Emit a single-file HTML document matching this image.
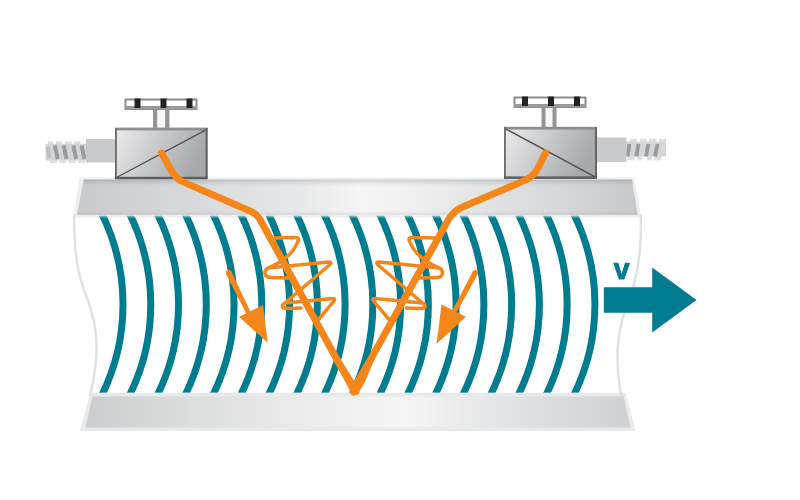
<!DOCTYPE html>
<html><head><meta charset="utf-8"><style>
html,body{margin:0;padding:0;background:#fff;}
body{width:800px;height:500px;overflow:hidden;}
svg{display:block;}
</style></head><body>
<svg width="800" height="500" viewBox="0 0 800 500">
<defs>
<linearGradient id="barG" gradientUnits="userSpaceOnUse" x1="77" y1="0" x2="638" y2="0">
<stop offset="0" stop-color="#c9cacc"/>
<stop offset="0.22" stop-color="#d9dadb"/>
<stop offset="0.40" stop-color="#e7e8e9"/>
<stop offset="0.51" stop-color="#f5f5f5"/>
<stop offset="0.61" stop-color="#eeeeef"/>
<stop offset="0.72" stop-color="#e3e4e5"/>
<stop offset="0.86" stop-color="#d6d7d8"/>
<stop offset="1" stop-color="#c8c9cb"/>
</linearGradient>
<linearGradient id="barB" gradientUnits="userSpaceOnUse" x1="85" y1="0" x2="631" y2="0">
<stop offset="0" stop-color="#cbcccd"/>
<stop offset="0.2" stop-color="#dcdddd"/>
<stop offset="0.40" stop-color="#ececec"/>
<stop offset="0.59" stop-color="#f5f5f5"/>
<stop offset="0.76" stop-color="#e3e4e5"/>
<stop offset="1" stop-color="#cfd0d2"/>
</linearGradient>
<linearGradient id="boxG" x1="0" y1="0" x2="1" y2="0.3">
<stop offset="0" stop-color="#ececed"/>
<stop offset="1" stop-color="#a6a8aa"/>
</linearGradient>
<linearGradient id="boxG2" x1="0" y1="0" x2="1" y2="0.3">
<stop offset="0" stop-color="#ececed"/>
<stop offset="1" stop-color="#a6a8aa"/>
</linearGradient>
</defs>
<rect width="800" height="500" fill="#fff"/>

<!-- pipe end curves -->
<path d="M74,214 C74.5,245 75,268 86,295 C93,313 97,330 96.5,350 C96,370 93,384 90,396" fill="none" stroke="#dfe0e1" stroke-width="2.4"/>
<path d="M641,214 C641,245 640,264 633,288 C626,308 618,325 617.5,355 C617.5,372 619,384 621,396" fill="none" stroke="#dfe0e1" stroke-width="2.4"/>

<!-- waves -->
<filter id="soft" x="-5%" y="-5%" width="110%" height="110%"><feGaussianBlur stdDeviation="0.55"/></filter>
<clipPath id="wclip"><rect x="0" y="215.8" width="800" height="177"/></clipPath>
<g clip-path="url(#wclip)"><g fill="none" stroke="#017b8f" stroke-width="7" filter="url(#soft)">
<path d="M99.92,210.0 A205.0,205.0 0 0 1 100.44,398.0"/>
<path d="M127.68,210.0 A205.0,205.0 0 0 1 128.20,398.0"/>
<path d="M155.44,210.0 A205.0,205.0 0 0 1 155.96,398.0"/>
<path d="M183.20,210.0 A205.0,205.0 0 0 1 183.72,398.0"/>
<path d="M210.96,210.0 A205.0,205.0 0 0 1 211.48,398.0"/>
<path d="M238.72,210.0 A205.0,205.0 0 0 1 239.24,398.0"/>
<path d="M266.48,210.0 A205.0,205.0 0 0 1 267.00,398.0"/>
<path d="M294.24,210.0 A205.0,205.0 0 0 1 294.76,398.0"/>
<path d="M322.00,210.0 A205.0,205.0 0 0 1 322.52,398.0"/>
<path d="M349.76,210.0 A205.0,205.0 0 0 1 350.28,398.0"/>
<path d="M377.52,210.0 A205.0,205.0 0 0 1 378.04,398.0"/>
<path d="M405.28,210.0 A205.0,205.0 0 0 1 405.80,398.0"/>
<path d="M433.04,210.0 A205.0,205.0 0 0 1 433.56,398.0"/>
<path d="M460.80,210.0 A205.0,205.0 0 0 1 461.32,398.0"/>
<path d="M488.56,210.0 A205.0,205.0 0 0 1 489.08,398.0"/>
<path d="M516.32,210.0 A205.0,205.0 0 0 1 516.84,398.0"/>
<path d="M544.08,210.0 A205.0,205.0 0 0 1 544.60,398.0"/>
<path d="M571.84,210.0 A205.0,205.0 0 0 1 572.36,398.0"/>
</g></g>

<!-- top bar -->
<polygon points="79.5,177.6 634.5,177.6 640.8,217.6 73.5,217.6" fill="#dcdddf" fill-opacity="0.5"/>
<polygon points="83.75,179.5 632,179.5 637.6,214.7 77,214.7" fill="url(#barG)"/>
<linearGradient id="vshade" gradientUnits="userSpaceOnUse" x1="0" y1="179.5" x2="0" y2="214.7">
<stop offset="0" stop-color="#000" stop-opacity="0.13"/>
<stop offset="0.10" stop-color="#000" stop-opacity="0.06"/>
<stop offset="0.16" stop-color="#000" stop-opacity="0.0"/>
<stop offset="0.90" stop-color="#000" stop-opacity="0.0"/>
<stop offset="1" stop-color="#000" stop-opacity="0.08"/>
</linearGradient>
<polygon points="83.75,179.5 632,179.5 637.6,214.7 77,214.7" fill="url(#vshade)"/>
<!-- bottom bar -->
<polygon points="90.5,392.8 625.5,392.8 635.5,431 79.8,431" fill="#dcdddf" fill-opacity="0.65"/>
<polygon points="92.5,396.5 623.5,396.5 630.5,427.5 85.5,427.5" fill="url(#barB)"/>

<!-- left sensor -->
<g>
<g fill="#dedfe0">
<rect x="48" y="141.4" width="5" height="2.6"/><rect x="56" y="141.4" width="6" height="2.6"/><rect x="65" y="141.4" width="6.5" height="2.6"/><rect x="74" y="141.4" width="6.5" height="2.6"/>
<rect x="50" y="160.4" width="7" height="2.6"/><rect x="60" y="160.4" width="6" height="2.6"/><rect x="69" y="160.4" width="6.5" height="2.6"/><rect x="78" y="160.4" width="7" height="2.6"/>
</g>
<rect x="45.6" y="143.8" width="40.6" height="16.8" fill="#d4d5d6"/>
<g stroke="#9a9b9d" stroke-width="4">
<line x1="47.6" y1="147" x2="49.4" y2="158" stroke="#bdbebf"/>
<line x1="54.8" y1="145.5" x2="57.7" y2="159"/><line x1="63.6" y1="145.5" x2="66.6" y2="159"/><line x1="73.2" y1="145.5" x2="76.2" y2="159"/><line x1="81.6" y1="145.5" x2="84.4" y2="159"/>
</g>
<rect x="86" y="139" width="29" height="23.5" fill="#c8c9cb"/>
<rect x="125.5" y="99.5" width="71" height="9.5" fill="#fff" stroke="#8c8c8c" stroke-width="2"/>
<rect x="125" y="106" width="72" height="3.5" fill="#9a9a9a"/>
<rect x="134.5" y="98.5" width="6" height="9.5" fill="#222"/>
<rect x="160.5" y="98.5" width="6" height="9.5" fill="#222"/>
<rect x="186.5" y="98.5" width="6" height="9.5" fill="#222"/>
<rect x="153" y="110" width="16.4" height="18" fill="#f8f8f8"/>
<rect x="153" y="110" width="4.2" height="18" fill="#959595"/>
<rect x="165.2" y="110" width="4.2" height="18" fill="#959595"/>
<rect x="115" y="128" width="92.5" height="51" fill="url(#boxG)"/>
<rect x="115" y="127.6" width="92.5" height="2.8" fill="#8e8f91"/>
<rect x="115" y="128" width="1.9" height="51" fill="#6e6f71"/>
<rect x="205.6" y="128" width="2" height="51" fill="#626365"/>
<rect x="115" y="176.8" width="92.5" height="2.5" fill="#5c5d5f"/>
<line x1="116.5" y1="177.5" x2="206" y2="129.8" stroke="#505153" stroke-width="1.4"/>
</g>

<!-- right sensor -->
<g>
<g fill="#dedfe0">
<rect x="630" y="138.8" width="7" height="3"/><rect x="640" y="138.8" width="7" height="3"/><rect x="649" y="138.8" width="7.5" height="3"/><rect x="659" y="138.8" width="7" height="3"/>
<rect x="627.5" y="156" width="7" height="4.3"/><rect x="637.6" y="156" width="4.5" height="4.3"/><rect x="647" y="156" width="5" height="4.3"/><rect x="654" y="156" width="7.5" height="4.3"/>
</g>
<rect x="626" y="141.6" width="40" height="14.8" fill="#d4d5d6"/>
<g stroke="#9a9b9d" stroke-width="3.8">
<line x1="629.4" y1="144" x2="627.6" y2="156.5"/><line x1="638.4" y1="144" x2="636.4" y2="156.5"/><line x1="648.4" y1="144" x2="646" y2="156.5"/><line x1="657.6" y1="144" x2="655" y2="156.5"/>
</g>
<rect x="597" y="137.5" width="29.5" height="24.5" fill="#c8c9cb"/>
<rect x="514.5" y="97.5" width="71" height="9.5" fill="#fff" stroke="#8c8c8c" stroke-width="2"/>
<rect x="514" y="104" width="72" height="3.5" fill="#9a9a9a"/>
<rect x="522" y="96.5" width="6" height="9.5" fill="#222"/>
<rect x="548" y="96.5" width="6" height="9.5" fill="#222"/>
<rect x="574" y="96.5" width="6" height="9.5" fill="#222"/>
<rect x="541.5" y="108" width="15" height="19" fill="#f8f8f8"/>
<rect x="541.5" y="108" width="4" height="19" fill="#959595"/>
<rect x="552.5" y="108" width="4" height="19" fill="#959595"/>
<rect x="504" y="127" width="93" height="51.8" fill="url(#boxG2)"/>
<rect x="504" y="126.8" width="93" height="2.8" fill="#8e8f91"/>
<rect x="504" y="127" width="1.9" height="51.8" fill="#6e6f71"/>
<rect x="595" y="127" width="2" height="51.8" fill="#626365"/>
<rect x="504" y="176.4" width="93" height="2.5" fill="#5c5d5f"/>
<line x1="505.5" y1="128.8" x2="596" y2="177.4" stroke="#505153" stroke-width="1.4"/>
</g>

<!-- orange -->
<g fill="none" stroke="#f6861a" stroke-linecap="round" stroke-linejoin="round">
<clipPath id="vclip"><rect x="0" y="0" width="800" height="395.8"/></clipPath>
<path clip-path="url(#vclip)" d="M161.5,153 L172,171.5 Q176.4,179.1 184,182.4 L250,211 Q256.6,213.9 259.5,218.5 L353.6,390 L448.5,219.5 Q454,210.6 462,207.2 L522,181.6 Q533,177 537,170 L545.5,153" stroke-width="7" stroke-linejoin="miter" stroke-miterlimit="10"/>
<path d="M271,238 L296,237.5 Q299.5,237.5 298,241 Q292,258 268,268 M268,268 C263,271.5 264.5,277.5 271,277.5 L289,278 M268,268 L328.5,262 Q332,262 330,264.5 L285,303 M285,303 C280.5,305.5 282,308.5 287.5,308.5 L301,308 M285,303 L332.5,298.6 Q336,298.6 334,301 L318,320" stroke-width="3.5"/>
<path d="M436.5,238 L411.5,237.5 Q408.0,237.5 409.5,241 Q415.5,258 439.5,268 M439.5,268 C444.5,271.5 443.0,277.5 436.5,277.5 L418.5,278 M439.5,268 L379.0,262 Q375.5,262 377.5,264.5 L422.5,303 M422.5,303 C427.0,305.5 425.5,308.5 420.0,308.5 L406.5,308 M422.5,303 L375.0,298.6 Q371.5,298.6 373.5,301 L389.5,320" stroke-width="3.5"/>
</g>
<g fill="#f6861a">
<polygon points="333.7,361 347.3,382 349.4,388.4 350.8,394.8 358.3,394.8 361,388.4 364.9,382 373.7,361 365.7,361 354.3,381 341.7,361"/>
<polygon points="226.11,274.33 246.94,315.02 251.06,312.98 231.49,271.67"/><circle cx="228.8" cy="273.0" r="3.0"/>
<polygon points="239,316.7 263,305 267.7,342.8"/>
<polygon points="472.84,271.47 450.98,312.91 455.02,315.09 477.76,274.13"/><circle cx="475.3" cy="272.8" r="2.8"/>
<polygon points="441.5,304.6 465.8,316.8 436.6,344"/>
</g>

<!-- flow arrow -->
<polygon points="603.8,287.3 652.2,287.3 652.2,267.5 696.5,300 652.2,332.5 652.2,312.8 603.8,312.8" fill="#017b8f"/>
<path d="M731 0H395L8 1082H305L494 477Q509 427 565 227Q575 268 606.0 371.0Q637 474 836 1082H1130Z" transform="matrix(0.01381 0 0 -0.0146 613.79 279.1)" fill="#017b8f" stroke="#017b8f" stroke-width="70" stroke-linejoin="round"/>
</svg>
</body></html>
